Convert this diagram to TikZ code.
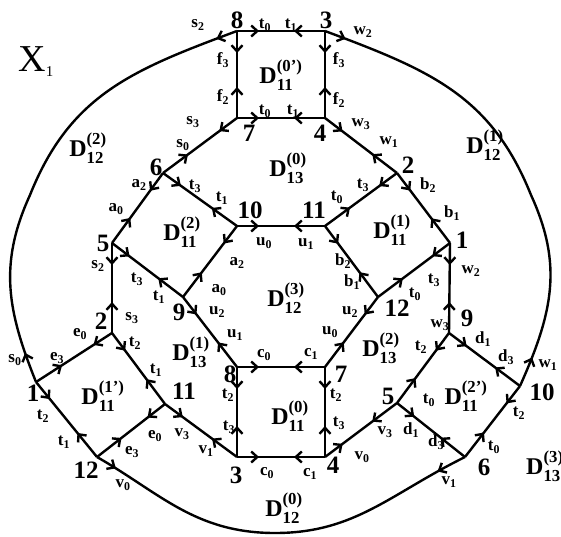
\documentclass[tikz,border=0pt]{standalone}
\usepackage{amsmath}
\usepackage{fontspec}
\setmainfont{Liberation Serif}
\usetikzlibrary{positioning,arrows.meta,decorations.markings}

\newcommand\el[2]{#1\textsubscript{#2}}
\newcommand\dreg[2]{D$^{\text{(#2)}}_{\text{#1}}$}

\begin{document}
\begin{tikzpicture}[x=1pt, y=-1pt, line width=2.4pt,
    >={Straight Barb[length=6pt,width=11pt]},
    edge/.style={postaction={decorate}, decoration={markings,
        mark=at position 22pt with {\arrow{>}},
        mark=at position -22pt with {\arrow{<}}}},
    lab/.style={font=\fontsize{17}{17}\selectfont\bfseries, inner sep=0pt},
    vnum/.style={font=\fontsize{25}{25}\selectfont\bfseries, inner sep=0pt},
    dlab/.style={font=\fontsize{24}{24}\selectfont\bfseries, inner sep=0pt}
]
\path[use as bounding box, clip] (0,0) rectangle (561,536);

% --- Vertices ---
\coordinate (v8t) at (237,31);
\coordinate (v3t) at (325,31);
\coordinate (v7t) at (237,118);
\coordinate (v4t) at (325,118);
\coordinate (v6)  at (163,173);
\coordinate (v2r) at (397,173);
\coordinate (v10) at (237,226);
\coordinate (v11) at (325,226);
\coordinate (v5l) at (112,243);
\coordinate (v1r) at (450,243);
\coordinate (v9l) at (183,297);
\coordinate (v12r) at (378,297);
\coordinate (v2l) at (112,333);
\coordinate (v9r) at (449,333);
\coordinate (v8b) at (237,367);
\coordinate (v7b) at (325,367);
\coordinate (v1l) at (36,382);
\coordinate (v10r) at (520,386);
\coordinate (v11l) at (165,404);
\coordinate (v5r) at (397,403);
\coordinate (v12l) at (97,457);
\coordinate (v3b) at (237,457);
\coordinate (v4b) at (325,457);
\coordinate (v6r) at (465,457);
% points on the outer curves
\coordinate (lmid) at (30,195);
\coordinate (rmid) at (531,195);
\coordinate (bmid) at (275,533);

% --- Outer curves ---
\draw[edge] (v8t) .. controls (132,70) and (70,95) .. (lmid)
    .. controls (-2,265) and (8,312) .. (v1l);
\draw[edge] (v3t) .. controls (429,70) and (491,95) .. (rmid)
    .. controls (563,265) and (553,312) .. (v10r);
\draw[edge] (v12l) .. controls (160,493) and (195,533) .. (bmid)
    .. controls (355,533) and (390,494) .. (v6r);

% --- Top square ---
\draw[edge] (v8t) -- (v3t);
\draw[edge] (v8t) -- (v7t);
\draw[edge] (v3t) -- (v4t);
\draw[edge] (v7t) -- (v4t);

% --- Upper ring ---
\draw[edge] (v7t) -- (v6);
\draw[edge] (v4t) -- (v2r);
\draw[edge] (v6) -- (v5l);
\draw[edge] (v6) -- (v10);
\draw[edge] (v2r) -- (v11);
\draw[edge] (v2r) -- (v1r);
\draw[edge] (v10) -- (v11);
\draw[edge] (v10) -- (v9l);
\draw[edge] (v5l) -- (v9l);
\draw[edge] (v11) -- (v12r);
\draw[edge] (v1r) -- (v12r);
\draw[edge] (v5l) -- (v2l);
\draw[edge] (v1r) -- (v9r);

% --- Lower ring ---
\draw[edge] (v9l) -- (v8b);
\draw[edge] (v12r) -- (v7b);
\draw[edge] (v8b) -- (v7b);
\draw[edge] (v8b) -- (v3b);
\draw[edge] (v7b) -- (v4b);
\draw[edge] (v3b) -- (v4b);
\draw[edge] (v2l) -- (v1l);
\draw[edge] (v2l) -- (v11l);
\draw[edge] (v11l) -- (v12l);
\draw[edge] (v11l) -- (v3b);
\draw[edge] (v1l) -- (v12l);
\draw[edge] (v4b) -- (v5r);
\draw[edge] (v9r) -- (v5r);
\draw[edge] (v9r) -- (v10r);
\draw[edge] (v5r) -- (v6r);
\draw[edge] (v10r) -- (v6r);

% --- Vertex numbers ---
\node[vnum] (n8t) at (237,20) {8};
\node[vnum] (n3t) at (326,20) {3};
\node[vnum] (n7t) at (249,133) {7};
\node[vnum] (n4t) at (320,133) {4};
\node[vnum] (n6) at (156,167) {6};
\node[vnum] (n2r) at (408,165) {2};
\node[vnum] (n10) at (250,210) {10};
\node[vnum] (n11) at (314,210) {11};
\node[vnum] (n5l) at (103,243) {5};
\node[vnum] (n1r) at (462,240) {1};
\node[vnum] (n9l) at (179,312) {9};
\node[vnum] (n12r) at (397,308) {12};
\node[vnum] (n2l) at (101,321) {2};
\node[vnum] (n9r) at (467,318) {9};
\node[vnum] (n8b) at (230,374) {8};
\node[vnum] (n7b) at (341,374) {7};
\node[vnum] (n1l) at (33,393) {1};
\node[vnum] (n10r) at (542,392) {10};
\node[vnum] (n11l) at (184,391) {11};
\node[vnum] (n5r) at (388,396) {5};
\node[vnum] (n12l) at (86,470) {12};
\node[vnum] (n3b) at (236,475) {3};
\node[vnum] (n4b) at (333,465) {4};
\node[vnum] (n6r) at (484,467) {6};

% --- Edge labels: top ---
\node[lab] (s2-8t) at (198,25) {\el s2};
\node[lab] (t0-8t) at (265,25) {\el t0};
\node[lab] (t1-3t) at (291,25) {\el t1};
\node[lab] (w2-3t) at (363,32) {\el w2};
\node[lab] (f3-8t) at (223,60) {\el f3};
\node[lab] (f2-7t) at (223,97) {\el f2};
\node[lab] (f3-3t) at (339,60) {\el f3};
\node[lab] (f2-4t) at (339,100) {\el f2};
\node[lab] (t0-7t) at (265,111) {\el t0};
\node[lab] (t1-4t) at (293,111) {\el t1};
\node[lab] (s3-7t) at (193,122) {\el s3};
\node[lab] (w3-4t) at (361,124) {\el w3};
\node[lab] (s0-6) at (183,145) {\el s0};
\node[lab] (w1-2r) at (389,142) {\el w1};

% --- Edge labels: upper ring ---
\node[lab] (a2-6) at (139,185) {\el a2};
\node[lab] (t3-6) at (195,186) {\el t3};
\node[lab] (t1-10) at (222,198) {\el t1};
\node[lab] (a0-5l) at (116,209) {\el a0};
\node[lab] (t3-2r) at (363,185) {\el t3};
\node[lab] (t0-11) at (337,197) {\el t0};
\node[lab] (b2-2r) at (428,185) {\el b2};
\node[lab] (b1-1r) at (452,213) {\el b1};
\node[lab] (u0-10) at (264,243) {\el u0};
\node[lab] (u1-11) at (306,244) {\el u1};
\node[lab] (a2-10) at (237,263) {\el a2};
\node[lab] (a0-9l) at (219,290) {\el a0};
\node[lab] (b2-11) at (343,261) {\el b2};
\node[lab] (b1-12r) at (352,282) {\el b1};
\node[lab] (t3-5l) at (137,279) {\el t3};
\node[lab] (t1-9l) at (159,297) {\el t1};
\node[lab] (s2-5l) at (98,266) {\el s2};
\node[lab] (s3-2l) at (132,318) {\el s3};
\node[lab] (t3-1r) at (434,280) {\el t3};
\node[lab] (w2-1r) at (471,271) {\el w2};
\node[lab] (t0-12r) at (415,294) {\el t0};
\node[lab] (w3-9r) at (440,325) {\el w3};

% --- Edge labels: lower ring ---
\node[lab] (u2-9l) at (217,312) {\el u2};
\node[lab] (u1-8b) at (235,335) {\el u1};
\node[lab] (u2-12r) at (350,312) {\el u2};
\node[lab] (u0-7b) at (330,332) {\el u0};
\node[lab] (c0-8b) at (264,355) {\el c0};
\node[lab] (c1-7b) at (311,354) {\el c1};
\node[lab] (t2-8b) at (228,395) {\el t2};
\node[lab] (t3-3b) at (229,427) {\el t3};
\node[lab] (t2-7b) at (336,395) {\el t2};
\node[lab] (t3-4b) at (339,423) {\el t3};
\node[lab] (c0-3b) at (267,473) {\el c0};
\node[lab] (c1-4b) at (310,474) {\el c1};
\node[lab] (e0-2l) at (80,334) {\el e0};
\node[lab] (e3-1l) at (57,358) {\el e3};
\node[lab] (t2-2l) at (135,343) {\el t2};
\node[lab] (t1-11l) at (156,370) {\el t1};
\node[lab] (s0-1l) at (15,360) {\el s0};
\node[lab] (t2-1l) at (43,416) {\el t2};
\node[lab] (t1-12l) at (64,442) {\el t1};
\node[lab] (e0-11l) at (155,436) {\el e0};
\node[lab] (v3-11l) at (182,434) {\el v3};
\node[lab] (e3-12l) at (132,452) {\el e3};
\node[lab] (v1-3b) at (206,451) {\el v1};
\node[lab] (v0-12l) at (123,485) {\el v0};
\node[lab] (v0-4b) at (362,457) {\el v0};
\node[lab] (v3-5r) at (385,432) {\el v3};
\node[lab] (d1-5r) at (411,430) {\el d1};
\node[lab] (d3-6r) at (436,442) {\el d3};
\node[lab] (v1-6r) at (449,482) {\el v1};
\node[lab] (t0-6r) at (494,447) {\el t0};
\node[lab] (t2-10r) at (519,413) {\el t2};
\node[lab] (t2-9r) at (421,347) {\el t2};
\node[lab] (t0-5r) at (429,400) {\el t0};
\node[lab] (d1-9r) at (483,339) {\el d1};
\node[lab] (d3-10r) at (506,357) {\el d3};
\node[lab] (w1-10r) at (548,365) {\el w1};

% --- Regions ---
\node[font=\fontsize{38}{38}\selectfont, inner sep=0pt] (x1) at (36,62) {X\raisebox{-5pt}{\fontsize{15}{15}\selectfont 1}};
\node[dlab] (d11a) at (281,75) {\dreg{11}{0'}};
\node[dlab] (d13a) at (288,168) {\dreg{13}{0}};
\node[dlab] (d12b) at (88,148) {\dreg{12}{2}};
\node[dlab] (d12c) at (485,145) {\dreg{12}{1}};
\node[dlab] (d11b) at (182,232) {\dreg{11}{2}};
\node[dlab] (d11c) at (392,230) {\dreg{11}{1}};
\node[dlab] (d12d) at (286,298) {\dreg{12}{3}};
\node[dlab] (d13b) at (191,352) {\dreg{13}{1}};
\node[dlab] (d13c) at (381,348) {\dreg{13}{2}};
\node[dlab] (d11d) at (103,396) {\dreg{11}{1'}};
\node[dlab] (d11e) at (466,396) {\dreg{11}{2'}};
\node[dlab] (d11f) at (290,416) {\dreg{11}{0}};
\node[dlab] (d12a) at (284,508) {\dreg{12}{0}};
\node[dlab, anchor=west] (d13d) at (525,466) {\dreg{13}{3}};
\end{tikzpicture}
\end{document}
